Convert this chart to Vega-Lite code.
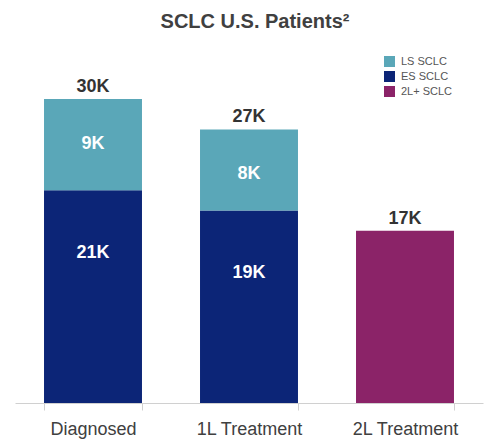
{
  "$schema": "https://vega.github.io/schema/vega-lite/v6.json",
  "width": 468,
  "height": 304,
  "autosize": {"type": "none"},
  "padding": {"top": 99, "left": 15, "right": 2, "bottom": 40},
  "background": "white",
  "config": {"view": {"stroke": null}, "font": "Liberation Sans"},
  "title": {
    "text": "SCLC U.S. Patients²",
    "fontSize": 20,
    "fontWeight": "bold",
    "color": "#404040",
    "anchor": "middle",
    "frame": "group",
    "offset": 24,
    "dx": 6
  },
  "data": {
    "values": [
      {"stage": "Diagnosed", "segment": "ES SCLC", "value": 21},
      {"stage": "Diagnosed", "segment": "LS SCLC", "value": 9},
      {"stage": "1L Treatment", "segment": "ES SCLC", "value": 19},
      {"stage": "1L Treatment", "segment": "LS SCLC", "value": 8},
      {"stage": "2L Treatment", "segment": "2L+ SCLC", "value": 17}
    ]
  },
  "transform": [
    {"stack": "value", "groupby": ["stage"], "sort": [{"field": "segment", "order": "ascending"}], "as": ["v0", "v1"]},
    {"joinaggregate": [{"op": "sum", "field": "value", "as": "total"}], "groupby": ["stage"]},
    {"calculate": "datum.value + 'K'", "as": "label"},
    {"calculate": "datum.total + 'K'", "as": "totalLabel"}
  ],
  "encoding": {
    "x": {
      "field": "stage",
      "type": "nominal",
      "sort": ["Diagnosed", "1L Treatment", "2L Treatment"],
      "scale": {"paddingInner": 0.372, "paddingOuter": 0.186},
      "axis": {
        "title": null,
        "labelAngle": 0,
        "labelFontSize": 18,
        "labelColor": "#404040",
        "labelPadding": 10,
        "domainColor": "#d0d0d0",
        "tickColor": "#d0d0d0",
        "tickBand": "extent",
        "tickSize": 7
      }
    }
  },
  "layer": [
    {
      "mark": {"type": "bar"},
      "encoding": {
        "y": {"field": "v0", "type": "quantitative", "scale": {"domain": [0, 30], "nice": false}, "axis": null},
        "y2": {"field": "v1"},
        "color": {
          "field": "segment",
          "type": "nominal",
          "scale": {"domain": ["LS SCLC", "ES SCLC", "2L+ SCLC"], "range": ["#5aa7b8", "#0c2577", "#8b2368"]},
          "legend": {
            "title": null,
            "orient": "none",
            "legendX": 369,
            "legendY": -43,
            "symbolType": "square",
            "symbolSize": 121,
            "symbolStrokeWidth": 0,
            "labelFontSize": 11,
            "labelColor": "#555555",
            "rowPadding": 3,
            "labelOffset": 6
          }
        }
      }
    },
    {
      "transform": [{"filter": "datum.segment == 'LS SCLC'"}],
      "mark": {"type": "text", "color": "white", "fontWeight": "bold", "fontSize": 18, "baseline": "middle", "dy": 45},
      "encoding": {
        "y": {"field": "v1", "type": "quantitative"},
        "text": {"field": "label"}
      }
    },
    {
      "transform": [{"filter": "datum.segment == 'ES SCLC'"}],
      "mark": {"type": "text", "color": "white", "fontWeight": "bold", "fontSize": 18, "baseline": "middle", "dy": 63},
      "encoding": {
        "y": {"field": "v1", "type": "quantitative"},
        "text": {"field": "label"}
      }
    },
    {
      "transform": [{"filter": "datum.v1 == datum.total"}],
      "mark": {"type": "text", "color": "#333333", "fontWeight": "bold", "fontSize": 18, "baseline": "middle", "dy": -12},
      "encoding": {
        "y": {"field": "v1", "type": "quantitative"},
        "text": {"field": "totalLabel"}
      }
    }
  ]
}
